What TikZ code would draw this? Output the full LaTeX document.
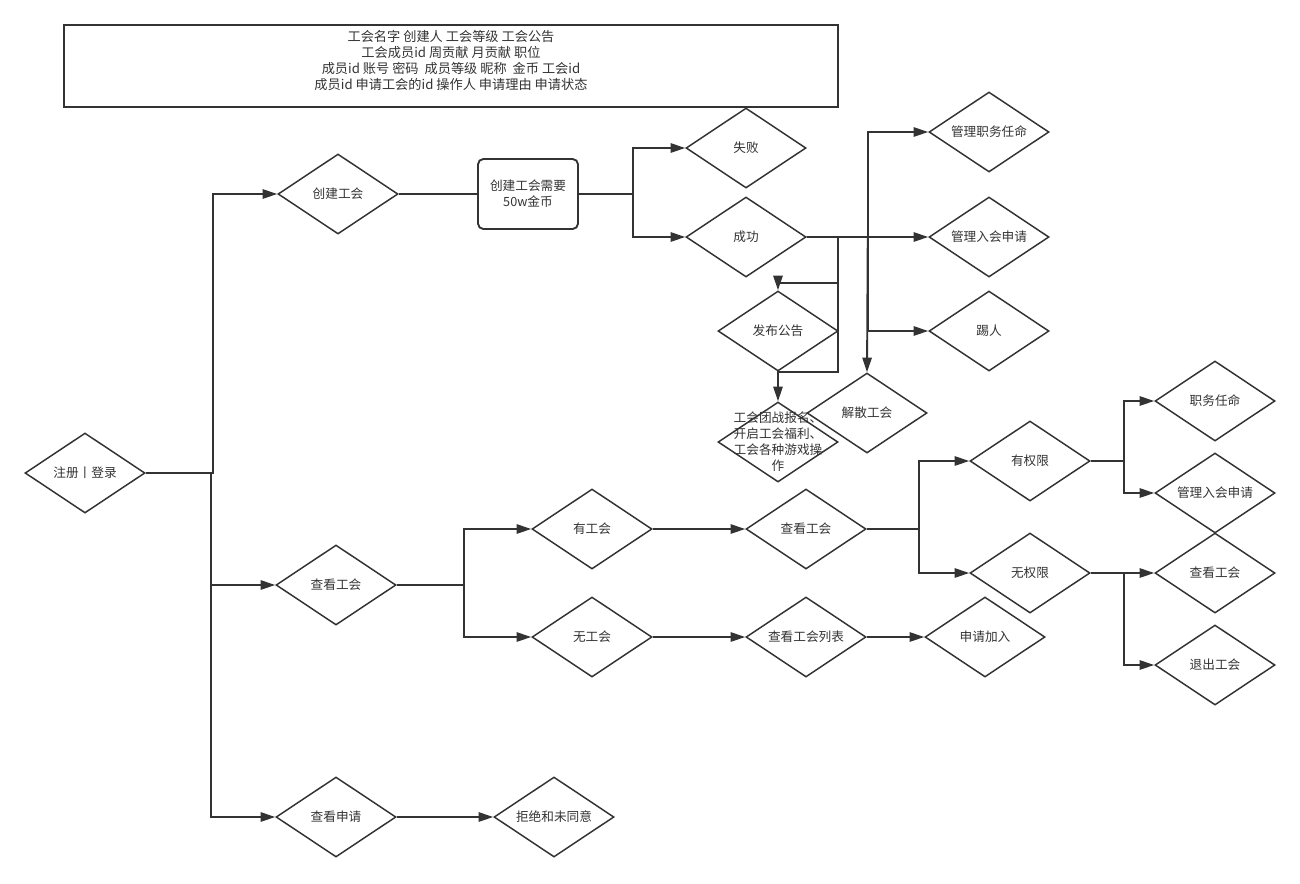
\documentclass[tikz,border=0pt]{standalone}
\usepackage{fontspec}
\setmainfont{Noto Sans CJK SC}
\usetikzlibrary{shapes.geometric,arrows.meta}
\definecolor{ink}{HTML}{333333}
\begin{document}
\begin{tikzpicture}[x=0.75pt,y=-0.75pt,
  every node/.style={font=\fontsize{9.5pt}{12pt}\selectfont,text=ink},
  dia/.style={draw=ink,line width=1.1pt,shape=diamond,aspect=1.5,inner sep=0pt,minimum width=90pt,minimum height=60pt},
  conn/.style={draw=ink,line width=1.4pt},
  arr/.style={conn,-{Triangle[length=11pt,width=7pt]}}]
\useasboundingbox (0,0) rectangle (1300,883);
% top info box
\node[draw=ink,line width=1.4pt,minimum width=580.5pt,minimum height=61.5pt,inner sep=0pt] (info) at (451,66) {};
\node[align=center,inner sep=0pt,font=\fontsize{9.9pt}{12pt}\selectfont] (infotext) at (451,60) {工会名字 创建人 工会等级 工会公告\\工会成员id 周贡献 月贡献 职位\\成员id 账号 密码 \ 成员等级 昵称 \ 金币 工会id\\成员id 申请工会的id 操作人 申请理由 申请状态};
% nodes
\node[dia] (reg) at (85,473) {注册丨登录};
\node[dia] (create) at (338,194) {创建工会};
\node[draw=ink,line width=1.4pt,rounded corners=4pt,minimum width=75pt,minimum height=52.5pt,align=center,inner sep=0pt] (req) at (528,194) {创建工会需要\\50w金币};
\node[dia] (fail) at (746,148) {失败};
\node[dia] (succ) at (746,237) {成功};
\node[dia] (mgr1) at (989,132) {管理职务任命};
\node[dia] (mgr2) at (989,237) {管理入会申请};
\node[dia] (kick) at (989,331) {踢人};
\node[dia] (pub) at (778,331) {发布公告};
\node[dia] (dis) at (867,413) {解散工会};
\node[dia] (guild) at (778,442) {};
\node[align=center,inner sep=0pt] (guildtext) at (778,442) {工会团战报名、\\开启工会福利、\\工会各种游戏操\\作};
\node[dia] (view1) at (336,585) {查看工会};
\node[dia] (has) at (592,529) {有工会};
\node[dia] (no) at (592,637) {无工会};
\node[dia] (view2) at (806,529) {查看工会};
\node[dia] (list) at (806,637) {查看工会列表};
\node[dia] (apply) at (985,637) {申请加入};
\node[dia] (perm) at (1030,461) {有权限};
\node[dia] (noperm) at (1030,573) {无权限};
\node[dia] (appoint) at (1215,401) {职务任命};
\node[dia] (mgr3) at (1215,493) {管理入会申请};
\node[dia] (view3) at (1215,573) {查看工会};
\node[dia] (quit) at (1215,665) {退出工会};
\node[dia] (apps) at (336,817) {查看申请};
\node[dia] (reject) at (554,817) {拒绝和未同意};
% connectors
\draw[arr] (reg.east) -- ++(67,0) |- (create.west);
\draw[arr] (reg.east) -- ++(65,0) |- (view1.west);
\draw[arr] (reg.east) -- ++(65,0) |- (apps.west);
\draw[conn] (create.east) -- (req.west);
\draw[arr] (req.east) -- ++(54,0) |- (fail.west);
\draw[arr] (req.east) -- ++(54,0) |- (succ.west);
\draw[arr] (succ.east) -- (mgr2.west);
\draw[arr] (succ.east) -- ++(31,0) -- ++(0,46) -| (pub.north);
\draw[arr] (succ.east) -- ++(31,0) -- ++(0,135) -| (guild.north);
\draw[arr] (succ.east) -- ++(61,0) |- (mgr1.west);
\draw[arr] (succ.east) -- ++(61,0) |- (kick.west);
\draw[arr] (succ.east) -- ++(61,0) -- (dis.north);
\draw[arr] (view1.east) -- ++(67,0) |- (has.west);
\draw[arr] (view1.east) -- ++(67,0) |- (no.west);
\draw[arr] (has.east) -- (view2.west);
\draw[arr] (no.east) -- (list.west);
\draw[arr] (list.east) -- (apply.west);
\draw[arr] (view2.east) -- ++(52,0) |- (perm.west);
\draw[arr] (view2.east) -- ++(52,0) |- (noperm.west);
\draw[arr] (perm.east) -- ++(33,0) |- (appoint.west);
\draw[arr] (perm.east) -- ++(33,0) |- (mgr3.west);
\draw[arr] (noperm.east) -- (view3.west);
\draw[arr] (noperm.east) -- ++(33,0) |- (quit.west);
\draw[arr] (apps.east) -- (reject.west);
\end{tikzpicture}
\end{document}
